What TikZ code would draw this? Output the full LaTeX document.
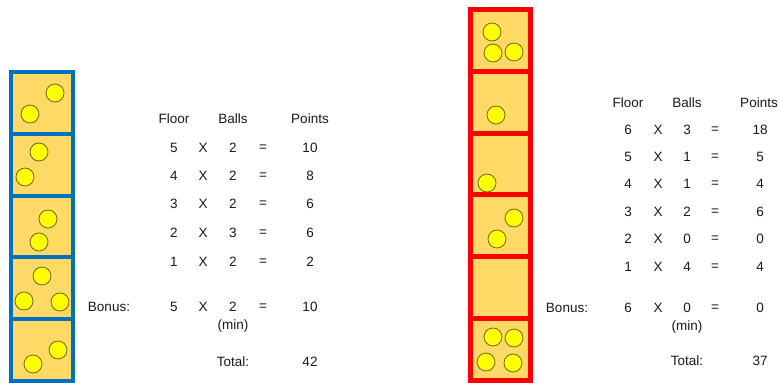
\documentclass[tikz,border=0pt]{standalone}
\usepackage{fontspec}
\setmainfont{Liberation Sans}
\definecolor{cellfill}{HTML}{FFD966}
\definecolor{ballfill}{HTML}{FFFF00}
\definecolor{balledge}{HTML}{6B6B1E}
\definecolor{towerblue}{HTML}{0070C0}
\definecolor{towerred}{HTML}{FF0000}
\definecolor{txt}{HTML}{1A1A1A}
\tikzset{
  bluecell/.style={draw=towerblue,line width=4pt,fill=cellfill},
  redcell/.style={draw=towerred,line width=5pt,fill=cellfill},
  ball/.style={draw=balledge,line width=0.8pt,fill=ballfill},
  lbl/.style={text=txt,font=\fontsize{13.5}{15}\selectfont,inner sep=0pt,anchor=center},
}
\begin{document}
\begin{tikzpicture}[x=1pt,y=-1pt]
\useasboundingbox (0,0) rectangle (779,385);
\fill[white] (0,0) rectangle (779,385);
% left tower
\foreach \i in {0,...,4}{
  \draw[bluecell] (11,{72+61.8*\i}) rectangle (73,{72+61.8*(\i+1)});
}
\foreach \p in {(55,93),(30,114),(39,152),(25,177),(48,219),(39,242),(42,276),(24,301),(60,302),(58,350),(33,364)}{
  \draw[ball] \p circle (9);
}
% right tower
\foreach \i in {0,...,5}{
  \draw[redcell] (470.5,{9.5+61.83*\i}) rectangle (530.5,{9.5+61.83*(\i+1)});
}
\foreach \p in {(492,32),(493,53),(514,52),(496,115),(487,183),(514,218),(497,239),(493,337),(514,338),(486,362),(513,363)}{
  \draw[ball] \p circle (9);
}
% left table
\node[lbl] (lhf) at (174,119) {Floor};
\node[lbl] (lhb) at (233,119) {Balls};
\node[lbl] (lhp) at (310,119) {Points};
\foreach \y/\f/\b/\p [count=\k] in {148/5/2/10,176/4/2/8,204/3/2/6,233/2/3/6,262/1/2/2}{
  \node[lbl] (lf\k) at (174,\y) {\f};
  \node[lbl] (lx\k) at (203,\y) {X};
  \node[lbl] (lb\k) at (233,\y) {\b};
  \node[lbl] (le\k) at (263,\y) {=};
  \node[lbl] (lp\k) at (310,\y) {\p};
}
\node[lbl] (lbon) at (109,307) {Bonus:};
\node[lbl] (lbf) at (174,307) {5};
\node[lbl] (lbx) at (203,307) {X};
\node[lbl] (lbb) at (233,307) {2};
\node[lbl] (lbe) at (263,307) {=};
\node[lbl] (lbp) at (310,307) {10};
\node[lbl] (lmin) at (233,326) {(min)};
\node[lbl] (ltot) at (233,362) {Total:};
\node[lbl] (ltp) at (310,362) {42};
% right table
\node[lbl] (rhf) at (628,103) {Floor};
\node[lbl] (rhb) at (687,103) {Balls};
\node[lbl] (rhp) at (759,103) {Points};
\foreach \y/\f/\b/\p [count=\k] in {130/6/3/18,157/5/1/5,184/4/1/4,212/3/2/6,239/2/0/0,267/1/4/4}{
  \node[lbl] (rf\k) at (628,\y) {\f};
  \node[lbl] (rx\k) at (658,\y) {X};
  \node[lbl] (rb\k) at (687,\y) {\b};
  \node[lbl] (re\k) at (715,\y) {=};
  \node[lbl] (rp\k) at (760,\y) {\p};
}
\node[lbl] (rbon) at (567,308) {Bonus:};
\node[lbl] (rbf) at (628,308) {6};
\node[lbl] (rbx) at (658,308) {X};
\node[lbl] (rbb) at (687,308) {0};
\node[lbl] (rbe) at (715,308) {=};
\node[lbl] (rbp) at (760,308) {0};
\node[lbl] (rmin) at (687,327) {(min)};
\node[lbl] (rtot) at (687,361) {Total:};
\node[lbl] (rtp) at (760,361) {37};
\end{tikzpicture}
\end{document}
